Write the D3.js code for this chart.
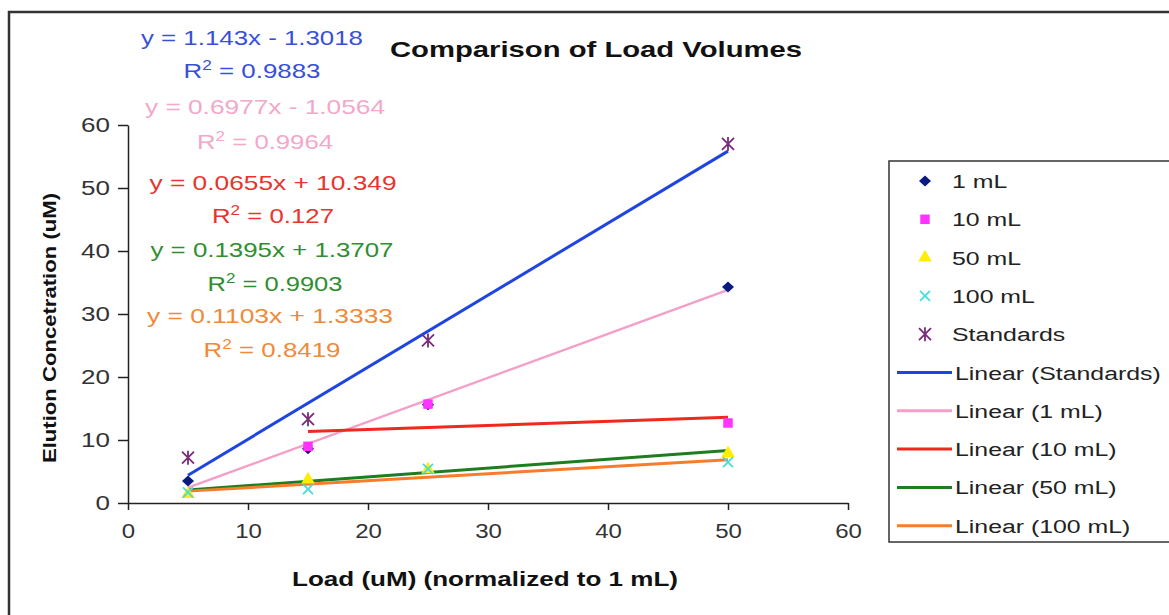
<!DOCTYPE html>
<html><head><meta charset="utf-8">
<script src="https://cdn.jsdelivr.net/npm/d3@7"></script>
<style>
body{margin:0;background:#fff;}
svg{display:block;}
text{font-family:"Liberation Sans",Arial,sans-serif;}
</style>
</head><body>
<svg id="c" width="1169" height="615"></svg>
<script>
// ---------- data ----------
const loads = [5, 15, 25, 50];
const loads10 = [15, 25, 50];
const oneML = [3.5, 8.6, 15.6, 34.3];
const tenML = [9.0, 15.7, 12.7];
const fiftyML = [1.4, 3.7, 5.3, 7.9];
const hundredML = [1.7, 2.2, 5.4, 6.5];
const standards = [7.2, 13.3, 25.8, 57.0];
const seriesNames = ["1 mL", "10 mL", "50 mL", "100 mL", "Standards"];
const trendNames = ["Standards", "1 mL", "10 mL", "50 mL", "100 mL"];
const slopes = [1.143, 0.6977, 0.0655, 0.1395, 0.1103];
const intercepts = [-1.3018, -1.0564, 10.349, 1.3707, 1.3333];
const r2Values = ["0.9883", "0.9964", "0.127", "0.9903", "0.8419"];
const xTicks = [0, 10, 20, 30, 40, 50, 60];
const yTicks = [0, 10, 20, 30, 40, 50, 60];

// ---------- styles / layout ----------
const markerColors = ["#0a1a80", "#ff33ff", "#ffee00", "#45dede", "#7a2c7a"];
const trendColors = ["#1f45e0", "#f59fc8", "#f0281e", "#1e7d1e", "#f87c2a"];
const eqColors = ["#3850d8", "#f3a7c9", "#e8342c", "#2f8f2f", "#ef8a3a"];
const eqPos = [ // [cx, baseline, width] for equation, then R2
  [[252, 45, 222], [252, 78, 137]],
  [[265, 114, 240], [265, 149, 136]],
  [[273, 190, 247], [273, 223, 122]],
  [[272, 257, 243], [275, 291, 135]],
  [[270, 323, 246], [272, 357, 137]]
];

const svg = d3.select("#c");
const x = d3.scaleLinear().domain([0, 60]).range([128, 848]);
const y = d3.scaleLinear().domain([0, 60]).range([503, 125]);

function stretch(sel, f) {
  sel.each(function () {
    const L = this.getComputedTextLength();
    this.setAttribute("textLength", L * f);
    this.setAttribute("lengthAdjust", "spacingAndGlyphs");
  });
}
function fitTo(sel, w) {
  sel.attr("textLength", w).attr("lengthAdjust", "spacingAndGlyphs");
}

// outer border
svg.append("rect").attr("x", 9).attr("y", 12).attr("width", 1200).attr("height", 640)
  .attr("fill", "#fff").attr("stroke", "#333").attr("stroke-width", 2.5);

// axes
const yAxis = d3.axisLeft(y).tickValues(yTicks).tickSize(10).tickSizeOuter(0).tickPadding(8);
const xAxis = d3.axisBottom(x).tickValues(xTicks).tickSize(7).tickSizeOuter(0).tickPadding(14);
const gy = svg.append("g").attr("transform", "translate(128,0)").call(yAxis);
const gx = svg.append("g").attr("transform", "translate(0,503)").call(xAxis);
[gx, gy].forEach(g => {
  g.selectAll("path.domain").attr("stroke", "#222").attr("stroke-width", 1.5);
  g.selectAll(".tick line").attr("stroke", "#222").attr("stroke-width", 1.5);
  g.selectAll(".tick text").attr("font-size", 20).attr("fill", "#333")
    .attr("font-family", "Liberation Sans, Arial, sans-serif");
});
stretch(gy.selectAll(".tick text"), 1.3);
stretch(gx.selectAll(".tick text"), 1.2);

// trend lines
const seriesX = [loads, loads, loads10, loads, loads];
trendNames.forEach((n, i) => {
  const xs = seriesX[i];
  const x0 = d3.min(xs), x1 = d3.max(xs);
  svg.append("line")
    .attr("x1", x(x0)).attr("y1", y(slopes[i] * x0 + intercepts[i]))
    .attr("x2", x(x1)).attr("y2", y(slopes[i] * x1 + intercepts[i]))
    .attr("stroke", trendColors[i]).attr("stroke-width", i === 1 ? 2.5 : 3);
});

// markers
const diamond = "M0,-5.5L6,0L0,5.5L-6,0Z";
const square = d3.symbol().type(d3.symbolSquare).size(90)();
const triangle = d3.symbol().type(d3.symbolTriangle).size(80)();
const xMark = "M-5,-5L5,5M-5,5L5,-5";
const star = "M-6,-6L6,6M-6,6L6,-6M0,-7L0,7";
const markerDefs = [
  {xs: loads, ys: oneML, path: diamond, fill: true},
  {xs: loads10, ys: tenML, path: square, fill: true},
  {xs: loads, ys: fiftyML, path: triangle, fill: true},
  {xs: loads, ys: hundredML, path: xMark, fill: false},
  {xs: loads, ys: standards, path: star, fill: false}
];
function drawMarker(g, def, i, cx, cy) {
  const p = g.append("path").attr("d", def.path).attr("transform", `translate(${cx},${cy})`);
  if (def.fill) p.attr("fill", markerColors[i]).attr("stroke", "none");
  else p.attr("fill", "none").attr("stroke", markerColors[i]).attr("stroke-width", 1.8);
}
markerDefs.forEach((def, i) => {
  const g = svg.append("g");
  def.xs.forEach((xv, j) => drawMarker(g, def, i, x(xv), y(def.ys[j])));
});

// equations
function fmtEq(m, b) {
  return "y = " + String(m) + "x " + (b < 0 ? "- " : "+ ") + String(Math.abs(b));
}
trendNames.forEach((n, i) => {
  const [e, r] = eqPos[i];
  const t1 = svg.append("text").attr("x", e[0]).attr("y", e[1]).attr("text-anchor", "middle")
    .attr("font-size", 21).attr("fill", eqColors[i]).text(fmtEq(slopes[i], intercepts[i]));
  fitTo(t1, e[2]);
  const t2 = svg.append("text").attr("x", r[0]).attr("y", r[1]).attr("text-anchor", "middle")
    .attr("font-size", 21).attr("fill", eqColors[i]);
  t2.append("tspan").text("R");
  t2.append("tspan").attr("font-size", 14).attr("dy", -8).text("2");
  t2.append("tspan").attr("dy", 8).text(" = " + r2Values[i]);
  fitTo(t2, r[2]);
});

// title
fitTo(svg.append("text").attr("x", 596).attr("y", 57).attr("text-anchor", "middle")
  .attr("font-size", 22).attr("font-weight", "bold").attr("fill", "#111")
  .text("Comparison of Load Volumes"), 412);

// axis titles
fitTo(svg.append("text").attr("x", 485).attr("y", 586).attr("text-anchor", "middle")
  .attr("font-size", 20).attr("font-weight", "bold").attr("fill", "#111")
  .text("Load (uM) (normalized to 1 mL)"), 386);
fitTo(svg.append("text").attr("transform", "translate(56,328) rotate(-90)").attr("text-anchor", "middle")
  .attr("font-size", 19).attr("font-weight", "bold").attr("fill", "#111")
  .text("Elution Concetration (uM)"), 270);

// legend
svg.append("rect").attr("x", 889).attr("y", 161).attr("width", 320).attr("height", 381)
  .attr("fill", "#fff").attr("stroke", "#333").attr("stroke-width", 1.5);
const legendItems = seriesNames.map((n, i) => ({label: n, kind: "m", i}))
  .concat(trendNames.map((n, i) => ({label: "Linear (" + n + ")", kind: "l", i})));
const rowY0 = 181, rowStep = 38.3;
const lg = svg.append("g");
legendItems.forEach((it, k) => {
  const cy = rowY0 + k * rowStep;
  if (it.kind === "m") drawMarker(lg, markerDefs[it.i], it.i, 925, cy);
  else lg.append("line").attr("x1", 897).attr("x2", 952).attr("y1", cy).attr("y2", cy)
    .attr("stroke", trendColors[it.i]).attr("stroke-width", 3);
  lg.append("text").attr("class", "lt").attr("x", it.kind === "m" ? 952 : 955).attr("y", cy + 7)
    .attr("font-size", 18).attr("fill", "#222").text(it.label);
});
stretch(lg.selectAll("text.lt"), 1.38);
</script>
</body></html>
